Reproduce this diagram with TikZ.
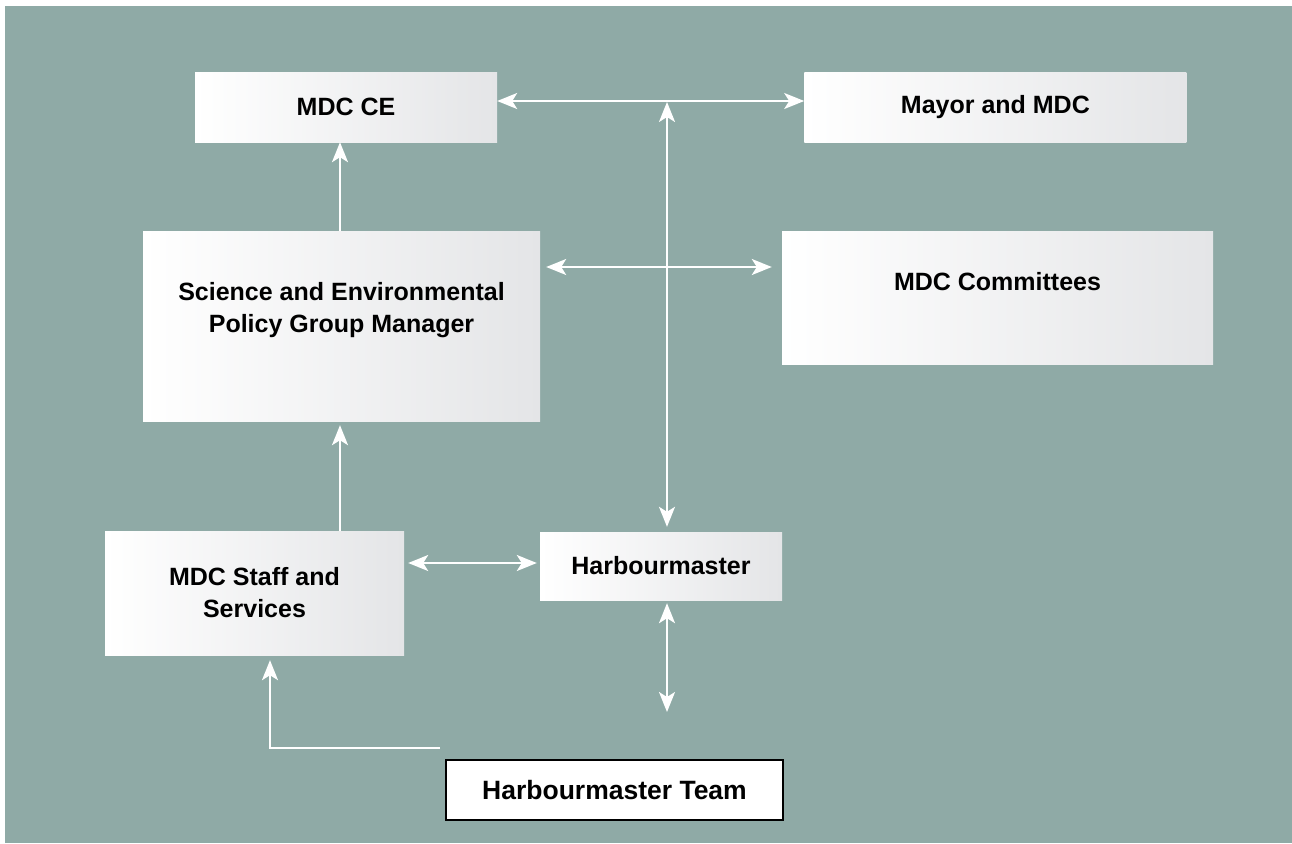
\documentclass[tikz,border=0pt]{standalone}
\usepackage{fontspec}
\setmainfont{Liberation Sans}
\definecolor{SeaGrey}{HTML}{8FAAA6}
\definecolor{PaleGrey}{HTML}{E4E5E7}
\definecolor{PanelWhite}{HTML}{FFFFFF}
\definecolor{LinkWhite}{HTML}{FFFFFF}
\usetikzlibrary{arrows.meta, positioning}
\tikzset{
    % Bold sans text everywhere
    every node/.style={font=\fontsize{25}{32}\selectfont\bfseries},
    % Shaded panel style
    panel/.style={
        rectangle,
        draw=none,
        left color=PanelWhite,
        right color=PaleGrey,
        inner sep=0pt,
        align=center
    },
    % Team box style
    teambox/.style={
        rectangle,
        draw=black,
        fill=white,
        line width=2pt,
        minimum width=337pt,
        minimum height=60pt,
        align=center,
        font=\fontsize{26.5}{32}\selectfont\bfseries
    },
    % Arrow style
    arrow/.style={
        ->,
        >={Stealth[length=20pt, width=16pt, inset=5pt]},
        line width=2pt,
        color=LinkWhite
    },
    % Two-way arrow style
    twoway/.style={
        arrow,
        <->
    }
}

\begin{document}
\begin{tikzpicture}[x=1pt, y=-1pt]
        \useasboundingbox (0,0) rectangle (1292,843);
        \fill [SeaGrey] (5,6) rectangle (1292,843);

        % Panels
        \node (ce) [panel, minimum width=302pt, minimum height=70pt] at (346,107) {MDC CE};
        \node (mayor) [panel, minimum width=382pt, minimum height=70pt, right=307pt of ce] {Mayor and MDC};
        \node (sepg) [panel, minimum width=397pt, minimum height=190pt, text depth=37pt] at (341.5,326) {Science and Environmental\\Policy Group Manager};
        \node (comm) [panel, minimum width=431pt, minimum height=133pt, text depth=32pt] at (997.5,297.5) {MDC Committees};
        \node (staff) [panel, minimum width=299pt, minimum height=124pt] at (254.5,593) {MDC Staff and\\Services};
        \node (hm) [panel, minimum width=242pt, minimum height=68pt] at (661,566) {Harbourmaster};
        \node (team) [teambox] at (614.5,790) {Harbourmaster Team};

        \coordinate (hub) at (667,102);
        \coordinate (low) at (667,712);
        \coordinate (bend) at (440,748);

        % Links
        \draw [twoway] ([yshift=6pt]ce.east) -- ([yshift=6pt]mayor.west);
        \draw [twoway, shorten >=5pt] (hub) -- (hm.north -| hub);
        \draw [twoway, shorten <=6pt, shorten >=10pt] ([yshift=59pt]sepg.east) -- ([yshift=59pt]sepg.east -| comm.west);
        \draw [arrow] ([xshift=-1.5pt]sepg.north) -- ([xshift=-1.5pt]sepg.north |- ce.south);
        \draw [arrow, shorten >=4pt] ([xshift=85.5pt]staff.north) -- ([xshift=85.5pt]staff.north |- sepg.south);
        \draw [twoway, shorten <=4pt, shorten >=3pt] ([yshift=30pt]staff.east) -- ([yshift=30pt]staff.east -| hm.west);
        \draw [twoway, shorten <=3pt] (hm.south -| hub) -- (low);
        \draw [arrow, shorten >=5pt] (bend) -| ([xshift=15.5pt]staff.south);
    \end{tikzpicture}
\end{document}
